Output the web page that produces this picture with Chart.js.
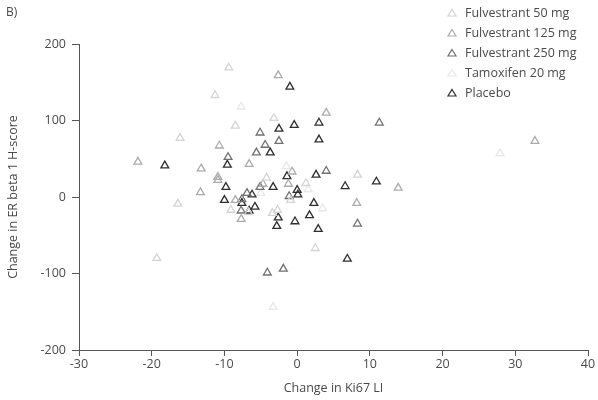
<!DOCTYPE html>
<html lang="en">
<head>
    <meta charset="UTF-8">
    <title>Change in ER beta 1 H-score vs Ki67 LI</title>
    <script src="https://cdn.jsdelivr.net/npm/chart.js"></script>
    <style>
        html, body { margin: 0; padding: 0; background: #fff; }
        #wrap { width: 598px; height: 400px; position: relative; }
    </style>
</head>
<body>
    <div id="wrap"><canvas id="scatter"></canvas></div>
    <script>
        // Data: [change in Ki67 LI, change in ER beta 1 H-score]
        const seriesNames = ['Fulvestrant 50 mg', 'Fulvestrant 125 mg', 'Fulvestrant 250 mg', 'Tamoxifen 20 mg', 'Placebo'];
        const seriesColors = ['#d4d4d4', '#acacac', '#707070', '#e8e8e8', '#2e2e2e'];

        const fulv50 = [[-16.1, 77], [-11.3, 133], [-9.4, 169], [-8.5, 93], [-3.2, 103], [-19.3, -80], [-16.4, -9],
            [-9.1, -17], [-3.4, -21], [-0.9, -4], [1.2, 18], [8.3, 29], [2.5, -67], [-6.7, -20], [-4.2, 25], [-2.7, -17]];
        const fulv125 = [[4.0, 110], [-6.6, 43], [-2.6, 159], [13.9, 12], [-21.9, 46], [-10.7, 67], [-13.2, 37],
            [-10.9, 26], [-13.3, 6], [-7.7, -29], [-4.7, 17], [8.2, -8], [32.7, 73], [-8.5, -4], [-10.9, 22],
            [-0.7, 33], [-1.2, 17]];
        const fulv250 = [[-2.5, 73], [-5.1, 84], [-4.4, 68], [-5.6, 58], [-9.5, 52], [11.3, 97], [4.0, 34],
            [-5.1, 13], [-6.9, 5], [-7.6, -3], [-7.7, -18], [-4.1, -99], [-1.9, -94], [8.3, -35], [-1.1, 1]];
        const tamox20 = [[-7.7, 118], [-3.3, -144], [27.9, 57], [-1.5, 40], [-5.0, 5], [1.5, 10], [3.5, -15]];
        const placebo = [[-1.0, 144], [-2.5, 89], [-0.4, 94], [3.0, 97], [3.0, 75], [-3.7, 58], [-9.6, 42],
            [-1.4, 27], [2.6, 29], [6.6, 14], [10.9, 20], [-3.3, 13], [0.0, 9], [0.1, 3], [-6.2, 3], [-18.2, 41],
            [-10.0, -4], [-7.6, -8], [-6.6, -18], [-5.8, -13], [-2.6, -27], [-2.8, -38], [2.3, -8], [1.7, -24],
            [2.9, -42], [-0.3, -32], [6.9, -81], [-9.8, 13]];

        const xTicks = [-30, -20, -10, 0, 10, 20, 30, 40];
        const yTicks = [-200, -100, 0, 100, 200];

        const allSeries = [fulv50, fulv125, fulv250, tamox20, placebo];
        const FONT = '"Open Sans", "DejaVu Sans", sans-serif';
        const TEXT = '#4a4a4a';
        const AXIS = '#555';

        // legend drawn in the top-right corner, over the empty part of the plot
        const cornerLegend = {
            id: 'cornerLegend',
            afterDraw(chart) {
                const ctx = chart.ctx;
                ctx.save();
                ctx.font = '12.5px ' + FONT;
                ctx.textBaseline = 'middle';
                ctx.textAlign = 'left';
                chart.data.datasets.forEach((ds, i) => {
                    const y = 13 + i * 20;
                    const x = 452;
                    ctx.strokeStyle = ds.borderColor;
                    ctx.lineWidth = 1.2;
                    ctx.beginPath();
                    ctx.moveTo(x, y - 3.5);
                    ctx.lineTo(x + 4, y + 3);
                    ctx.lineTo(x - 4, y + 3);
                    ctx.closePath();
                    ctx.stroke();
                    ctx.fillStyle = TEXT;
                    ctx.fillText(ds.label, 465, y);
                });
                // panel letter
                ctx.font = '12px ' + FONT;
                ctx.fillText('B)', 6, 13);
                ctx.restore();
            }
        };

        new Chart(document.getElementById('scatter'), {
            type: 'scatter',
            data: {
                datasets: allSeries.map((pts, i) => ({
                    label: seriesNames[i],
                    data: pts.map(p => ({ x: p[0], y: p[1] })),
                    pointStyle: 'triangle',
                    pointRadius: 4.5,
                    pointHoverRadius: 4.5,
                    borderWidth: 1.3,
                    borderColor: seriesColors[i],
                    backgroundColor: 'rgba(0,0,0,0)'
                }))
            },
            options: {
                responsive: true,
                maintainAspectRatio: false,
                animation: false,
                layout: { padding: { top: 44, right: 10, left: 0, bottom: 0 } },
                plugins: {
                    legend: { display: false },
                    tooltip: { enabled: false }
                },
                scales: {
                    x: {
                        type: 'linear',
                        min: -30,
                        max: 40,
                        afterBuildTicks: s => { s.ticks = xTicks.map(v => ({ value: v })); },
                        afterFit: s => { s.height = 50; },
                        grid: { drawOnChartArea: false, drawTicks: true, tickLength: 6, color: AXIS },
                        border: { display: true, color: AXIS, width: 1 },
                        ticks: { color: TEXT, font: { family: FONT, size: 12.5 }, padding: 1 },
                        title: {
                            display: true,
                            text: 'Change in Ki67 LI',
                            color: TEXT,
                            font: { family: FONT, size: 12.5 },
                            padding: { top: 6 }
                        }
                    },
                    y: {
                        type: 'linear',
                        min: -200,
                        max: 200,
                        afterBuildTicks: s => { s.ticks = yTicks.map(v => ({ value: v })); },
                        afterFit: s => { s.width = 79; },
                        grid: { drawOnChartArea: false, drawTicks: true, tickLength: 7, color: AXIS },
                        border: { display: true, color: AXIS, width: 1 },
                        ticks: { color: TEXT, font: { family: FONT, size: 12.5 }, padding: 6 },
                        title: {
                            display: true,
                            text: 'Change in ER beta 1 H-score',
                            color: TEXT,
                            font: { family: FONT, size: 12.5 },
                            padding: { top: 6, bottom: 6 }
                        }
                    }
                }
            },
            plugins: [cornerLegend]
        });
    </script>
</body>
</html>
